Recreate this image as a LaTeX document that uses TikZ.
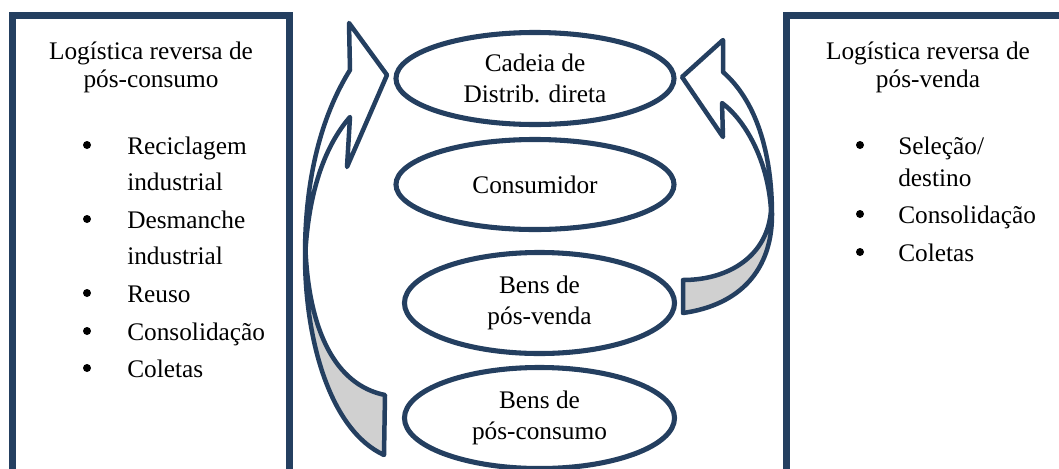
\documentclass[tikz,border=0pt]{standalone}
\usepackage{fontspec}
\setmainfont{Liberation Serif}
\usepackage{xcolor}
\usetikzlibrary{shapes.geometric}

\definecolor{navy}{HTML}{243F60}
\definecolor{backside}{HTML}{D0D0D0}

\begin{document}
\begin{tikzpicture}[x=0.025cm, y=-0.025cm,
        every node/.style={font=\fontsize{18}{22}\selectfont},
        bubble/.style={ellipse, draw=navy, line width=3.6pt, inner sep=0pt, align=center},
        panel/.style={draw=navy, line width=4.3pt},
        bendarrow/.style={draw=navy, line width=3.2pt, line join=round},
        dot/.style={circle, fill=black, inner sep=0pt, minimum size=0.2cm},
        item/.style={anchor=base west, inner sep=0pt}]
        \useasboundingbox (0,0) rectangle (1059,468);

        % panels, open at the bottom
        \draw[panel] (12.5,480) -- (12.5,15.5) -- (289.5,15.5) -- (289.5,480);
        \draw[panel] (786.5,480) -- (786.5,15.5) -- (1070,15.5);

        % left panel
        \node[anchor=base] (lhead1) at (151,59) {Logística reversa de};
        \node[anchor=base] (lhead2) at (151,87) {pós-consumo};
        \foreach \y/\txt [count=\i] in {154/Reciclagem, 190/industrial, 228/Desmanche, 264/industrial, 302/Reuso, 340/Consolidação, 377/Coletas}
            \node[item] (litem\i) at (127,\y) {\txt};
        \foreach \y [count=\i] in {154,228,302,340,377}
            \node[dot] (ldot\i) at (87,\y-9) {};

        % right panel
        \node[anchor=base] (rhead1) at (928,59) {Logística reversa de};
        \node[anchor=base] (rhead2) at (928,87) {pós-venda};
        \foreach \y/\txt [count=\i] in {154/{Seleção/}, 186/destino, 223/Consolidação, 261/Coletas}
            \node[item] (ritem\i) at (898,\y) {\txt};
        \foreach \y [count=\i] in {154,223,261}
            \node[dot] (rdot\i) at (860,\y-9) {};

        % cycle in the middle
        \node[bubble, minimum width=6.95cm, minimum height=2.3cm] (cadeia) at (535,78.5) {Cadeia de\\Distrib. direta};
        \node[bubble, minimum width=6.95cm, minimum height=2.25cm] (consumidor) at (535,184.5) {Consumidor};
        \node[bubble, minimum width=6.75cm, minimum height=2.525cm] (posvenda) at (539.5,303) {Bens de\\pós-venda};
        \node[bubble, minimum width=6.75cm, minimum height=2.525cm] (posconsumo) at (539.5,418) {Bens de\\pós-consumo};

        % left curved arrow
        \fill[backside] (305,255) .. controls (305,340) and (330,430) .. (384,455) -- (385,395)
            .. controls (335,385) and (309,330) .. (305.5,250) -- cycle;
        \draw[bendarrow] (384,455) .. controls (330,430) and (305,340) .. (305,255)
            .. controls (305,170) and (325,110) .. (350,70) -- (349,23) -- (387,75) -- (347,167) -- (350,117)
            .. controls (330,140) and (310,180) .. (305.5,250)
            .. controls (309,330) and (335,385) .. (385,395) -- cycle;

        % right curved arrow
        \fill[backside] (772,215) .. controls (772,270) and (740,305) .. (683,313) -- (683,280)
            .. controls (730,280) and (768,255) .. (771,210) -- cycle;
        \draw[bendarrow] (683,313) .. controls (740,305) and (772,270) .. (772,215)
            .. controls (772,150) and (755,100) .. (723,72) -- (723,40) -- (682,77) -- (723,137) -- (722,103)
            .. controls (745,120) and (768,160) .. (771,210)
            .. controls (768,255) and (730,280) .. (683,280) -- cycle;
\end{tikzpicture}
\end{document}
